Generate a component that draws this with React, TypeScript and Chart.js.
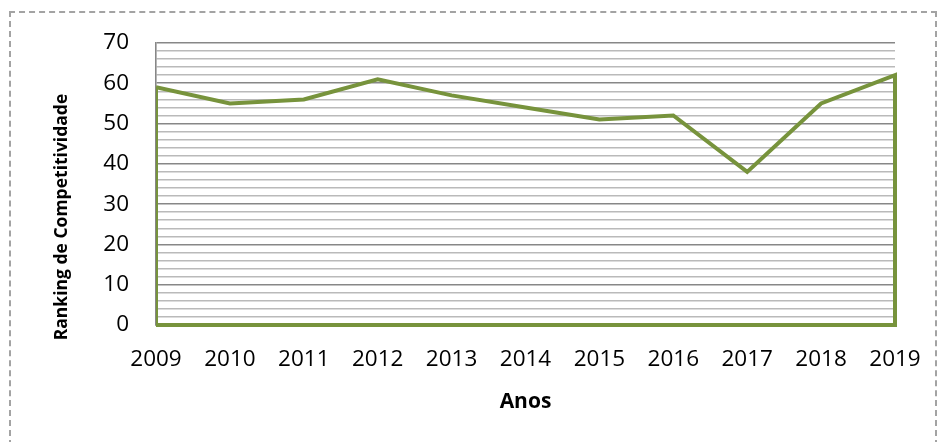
import React, { useEffect, useRef } from 'react';
import { Chart, registerables } from 'chart.js';

Chart.register(...registerables);

const years = [2009, 2010, 2011, 2012, 2013, 2014, 2015, 2016, 2017, 2018, 2019];
const ranking = [59, 55, 56, 61, 57, 54, 51, 52, 38, 55, 62];
const yTickLabels = [0, 10, 20, 30, 40, 50, 60, 70];
const xTitle = 'Anos';
const yTitle = 'Ranking de Competitividade';

const GREEN = '#77933C';
const MAJOR = '#878787';
const MINOR = '#bababa';
const FONT = '"Open Sans", "DejaVu Sans", sans-serif';

export default function App() {
  const ref = useRef<HTMLCanvasElement>(null);

  useEffect(() => {
    if (!ref.current) return;
    const pts = years.map((yr, i) => ({ x: yr, y: ranking[i] }));
    const polygon = [
      ...pts,
      { x: years[years.length - 1], y: 0 },
      { x: years[0], y: 0 },
      pts[0],
    ];

    const yTitlePlugin = {
      id: 'yTitlePlugin',
      afterDraw(chart: any) {
        const { ctx, chartArea } = chart;
        ctx.save();
        ctx.translate(chartArea.left - 94, chartArea.top + 174);
        ctx.rotate(-Math.PI / 2);
        ctx.font = `bold 17.5px ${FONT}`;
        ctx.fillStyle = '#000';
        ctx.textAlign = 'center';
        ctx.textBaseline = 'middle';
        ctx.fillText(yTitle, 0, 0);
        ctx.restore();
      },
    };

    const chart = new Chart(ref.current, {
      type: 'line',
      data: {
        datasets: [
          {
            data: polygon,
            borderColor: GREEN,
            borderWidth: 4,
            pointRadius: 0,
            tension: 0,
            fill: false,
            clip: { left: 0, top: 6, right: 6, bottom: 6 } as any,
          },
        ],
      },
      options: {
        animation: false,
        responsive: true,
        maintainAspectRatio: false,
        layout: { padding: { left: 0, top: 43, right: 44, bottom: 0 } },
        plugins: {
          legend: { display: false },
          tooltip: { enabled: false },
        },
        scales: {
          x: {
            type: 'linear',
            min: years[0],
            max: years[years.length - 1],
            grid: {
              display: true,
              drawOnChartArea: false,
              drawTicks: true,
              tickLength: 19,
              color: 'rgba(0,0,0,0)',
            },
            border: { display: true, color: MAJOR, width: 1.5 },
            ticks: {
              stepSize: 1,
              autoSkip: false,
              maxRotation: 0,
              padding: 2,
              color: '#000',
              font: { family: FONT, size: 22.5 },
              callback: (v: any) => {
                const idx = years.indexOf(Number(v));
                return idx >= 0 ? String(years[idx]) : '';
              },
            },
            title: {
              display: true,
              text: xTitle,
              color: '#000',
              font: { family: FONT, size: 21, weight: 'bold' },
              padding: { top: 0, bottom: 27 },
            },
            afterFit: (scale: any) => {
              scale.height = 117;
            },
          },
          y: {
            min: 0,
            max: 70,
            grid: {
              drawTicks: false,
              color: (c: any) => (c.tick && c.tick.value % 10 === 0 ? MAJOR : MINOR),
              lineWidth: 1.6,
            },
            border: { display: true, color: MAJOR, width: 1.6 },
            ticks: {
              stepSize: 2,
              autoSkip: false,
              padding: 27,
              color: '#000',
              font: { family: FONT, size: 22.5 },
              callback: (v: any) => (yTickLabels.includes(Number(v)) ? String(v) : ''),
            },
            afterFit: (scale: any) => {
              scale.width = 156;
            },
          },
        },
      },
      plugins: [yTitlePlugin],
    });

    return () => chart.destroy();
  }, []);

  return (
    <div>
      <div
        style={{
          position: 'fixed',
          left: 9,
          top: 11,
          width: 928,
          height: 445,
          border: '2px dashed #a3a3a3',
          boxSizing: 'border-box',
        }}
      />
      <div style={{ position: 'fixed', left: 0, top: 0, width: 939, height: 442 }}>
        <canvas ref={ref} />
      </div>
    </div>
  );
}
